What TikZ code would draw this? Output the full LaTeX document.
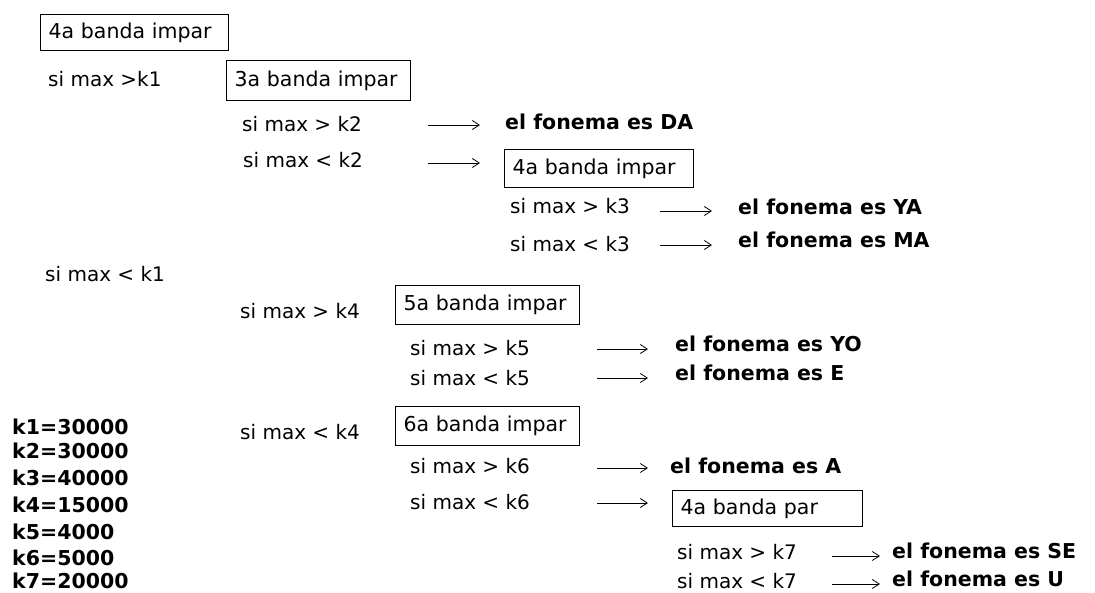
\documentclass[tikz,border=0pt]{standalone}
\usepackage{fontspec}
\setmainfont{DejaVu Sans}
\usetikzlibrary{arrows.meta}
\begin{document}
\begin{tikzpicture}[x=1pt,y=-1pt,
  cond/.style={anchor=base west, inner sep=0pt, font=\fontsize{20}{22}\selectfont},
  res/.style={anchor=base west, inner sep=0pt, font=\fontsize{20.5}{22}\selectfont\bfseries},
  kval/.style={anchor=base west, inner sep=0pt, font=\fontsize{20.5}{22}\selectfont\bfseries},
  bandbox/.style={draw, line width=1pt, anchor=north west, inner xsep=8pt, inner ysep=0pt,
                  align=left, font=\fontsize{20.5}{22}\selectfont},
  arr/.style={line width=0.9pt, -{Straight Barb[length=7pt,width=9pt,line width=0.8pt]}}
]
\fill[white] (0,0) rectangle (1095,593);
\useasboundingbox (0,0) rectangle (1095,593);

% band boxes
\node[bandbox, text width=172pt, minimum height=36pt] (b1) at (40,14)  {4a banda impar};
\node[bandbox, text width=168pt, minimum height=40pt] (b2) at (226,60) {3a banda impar};
\node[bandbox, text width=173pt, minimum height=38pt] (b3) at (504,149) {4a banda impar};
\node[bandbox, text width=168pt, minimum height=39pt] (b4) at (395,285) {5a banda impar};
\node[bandbox, text width=168pt, minimum height=39pt] (b5) at (395,406) {6a banda impar};
\node[bandbox, text width=174pt, minimum height=36pt] (b6) at (672,490) {4a banda par};

% conditions
\node[cond] (c1)  at (48,87)   {si max >k1};
\node[cond] (c2)  at (242,132) {si max > k2};
\node[cond] (c3)  at (243,168) {si max < k2};
\node[cond] (c4)  at (510,214) {si max > k3};
\node[cond] (c5)  at (510,252) {si max < k3};
\node[cond] (c6)  at (45,282)  {si max < k1};
\node[cond] (c7)  at (240,319) {si max > k4};
\node[cond] (c8)  at (410,356) {si max > k5};
\node[cond] (c9)  at (410,385) {si max < k5};
\node[cond] (c10) at (240,439) {si max < k4};
\node[cond] (c11) at (410,473) {si max > k6};
\node[cond] (c12) at (410,509) {si max < k6};
\node[cond] (c13) at (677,559) {si max > k7};
\node[cond] (c14) at (677,588) {si max < k7};

% results
\node[res] (r1) at (505,130) {el fonema es DA};
\node[res] (r2) at (738,215) {el fonema es YA};
\node[res] (r3) at (738,248) {el fonema es MA};
\node[res] (r4) at (675,352) {el fonema es YO};
\node[res] (r5) at (675,381) {el fonema es E};
\node[res] (r6) at (670,473) {el fonema es A};
\node[res] (r7) at (892,558) {el fonema es SE};
\node[res] (r8) at (892,586) {el fonema es U};

% thresholds
\node[kval] (k1) at (12,435) {k1=30000};
\node[kval] (k2) at (12,458) {k2=30000};
\node[kval] (k3) at (12,485) {k3=40000};
\node[kval] (k4) at (12,512) {k4=15000};
\node[kval] (k5) at (12,539) {k5=4000};
\node[kval] (k6) at (12,565) {k6=5000};
\node[kval] (k7) at (12,588) {k7=20000};

% arrow tails
\coordinate (a1)  at (428,125);
\coordinate (a2)  at (428,163);
\coordinate (a3)  at (660,211);
\coordinate (a4)  at (660,245);
\coordinate (a5)  at (597,349);
\coordinate (a6)  at (597,378);
\coordinate (a7)  at (597,468);
\coordinate (a8)  at (597,503);
\coordinate (a9)  at (832,556);
\coordinate (a10) at (832,584);

\draw[arr, shorten >=25pt] (a1)  -- (a1 -| r1.west);
\draw[arr, shorten >=24pt] (a2)  -- (a2 -| b3.west);
\draw[arr, shorten >=26pt] (a3)  -- (a3 -| r2.west);
\draw[arr, shorten >=26pt] (a4)  -- (a4 -| r3.west);
\draw[arr, shorten >=27pt] (a5)  -- (a5 -| r4.west);
\draw[arr, shorten >=27pt] (a6)  -- (a6 -| r5.west);
\draw[arr, shorten >=22pt] (a7)  -- (a7 -| r6.west);
\draw[arr, shorten >=24pt] (a8)  -- (a8 -| b6.west);
\draw[arr, shorten >=12pt] (a9)  -- (a9 -| r7.west);
\draw[arr, shorten >=12pt] (a10) -- (a10 -| r8.west);
\end{tikzpicture}
\end{document}
